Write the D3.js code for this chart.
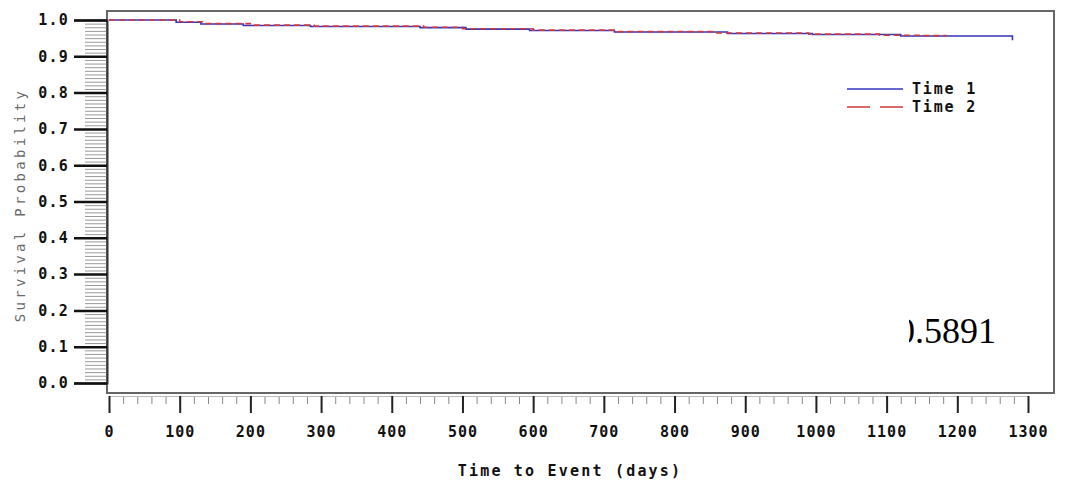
<!DOCTYPE html>
<html>
<head>
<meta charset="utf-8">
<script src="https://cdn.jsdelivr.net/npm/d3@7"></script>
<style>
  body { margin: 0; background: #fff; }
</style>
</head>
<body>
<svg id="chart" width="1075" height="485" font-family="DejaVu Sans Mono, monospace"></svg>
<script>
// data
const seriesNames = ["Time 1", "Time 2"];
const time1Days = [0, 95, 130, 190, 285, 440, 505, 595, 715, 875, 995, 1120, 1278];
const time1Surv = [1.0, 0.994, 0.989, 0.985, 0.982, 0.979, 0.975, 0.971, 0.967, 0.963, 0.960, 0.956, 0.944];
const time2Days = [0, 100, 135, 200, 290, 445, 500, 600, 720, 860, 990, 1090, 1150, 1185];
const time2Surv = [1.0, 0.995, 0.990, 0.986, 0.983, 0.980, 0.976, 0.972, 0.968, 0.964, 0.961, 0.958, 0.957, 0.957];
const xTicks = [0, 100, 200, 300, 400, 500, 600, 700, 800, 900, 1000, 1100, 1200, 1300];
const yTicks = [0.0, 0.1, 0.2, 0.3, 0.4, 0.5, 0.6, 0.7, 0.8, 0.9, 1.0];
const annotation = "0.5891";

const svg = d3.select("#chart");

const x = d3.scaleLinear().domain([0, 1300]).range([109, 1028]);
const y = d3.scaleLinear().domain([0, 1]).range([383, 20]);

// plot frame
svg.append("rect")
  .attr("x", 107).attr("y", 11)
  .attr("width", 1054 - 107).attr("height", 393 - 11)
  .attr("fill", "none").attr("stroke", "#666").attr("stroke-width", 2);

// y axis: minor ticks every 0.01, then major ticks
const yMinor = d3.axisLeft(y).tickValues(d3.range(0, 1.001, 0.01)).tickSize(22).tickFormat("");
const gyMinor = svg.append("g").attr("transform", "translate(107,0)").call(yMinor);
gyMinor.select(".domain").remove();
gyMinor.selectAll("line").attr("stroke", "#999").attr("stroke-width", 1);

const yAxis = d3.axisLeft(y).tickValues(yTicks).tickSize(33).tickPadding(7).tickFormat(d3.format(".1f"));
const gy = svg.append("g").attr("transform", "translate(107,0)").call(yAxis);
gy.select(".domain").attr("stroke", "#333").attr("stroke-width", 2);
gy.selectAll("line").attr("stroke", "#111").attr("stroke-width", 2.5);
gy.selectAll("text")
  .style("font-family", "DejaVu Sans Mono").style("font-weight", "bold")
  .style("font-size", "15px").attr("letter-spacing", "1.2px").attr("fill", "#111")
  .attr("dx", 2);

// x axis: minor ticks every 20 days, then majors
const xMinor = d3.axisBottom(x).tickValues(d3.range(0, 1301, 20)).tickSize(8).tickFormat("");
const gxMinor = svg.append("g").attr("transform", "translate(0,396)").call(xMinor);
gxMinor.select(".domain").remove();
gxMinor.selectAll("line").attr("stroke", "#888").attr("stroke-width", 1);

const xAxis = d3.axisBottom(x).tickValues(xTicks).tickSize(17).tickPadding(13)
  .tickSizeOuter(0).tickFormat(d3.format("d"));
const gx = svg.append("g").attr("transform", "translate(0,396)").call(xAxis);
gx.select(".domain").attr("stroke", "#bbb").attr("stroke-width", 1);
gx.selectAll("line").attr("stroke", "#222").attr("stroke-width", 2);
gx.selectAll("text")
  .style("font-family", "DejaVu Sans Mono").style("font-weight", "bold")
  .style("font-size", "15px").attr("letter-spacing", "1px").attr("fill", "#111");

// axis titles
svg.append("text")
  .attr("x", 570).attr("y", 476)
  .attr("text-anchor", "middle")
  .style("font-size", "15px").style("font-weight", "bold").attr("letter-spacing", "2.2px")
  .attr("fill", "#111")
  .text("Time to Event (days)");

svg.append("text")
  .attr("transform", "translate(25,205) rotate(-90)")
  .attr("text-anchor", "middle")
  .style("font-size", "14px").attr("letter-spacing", "3.3px")
  .attr("fill", "#6a6a6a")
  .text("Survival Probability");

// survival curves (step functions)
const line = d3.line()
  .x(d => x(d[0]))
  .y(d => y(d[1]))
  .curve(d3.curveStepAfter);

const series = [
  { name: seriesNames[0], pts: d3.zip(time1Days, time1Surv), color: "#3535c0", dash: null },
  { name: seriesNames[1], pts: d3.zip(time2Days, time2Surv), color: "#d03a3a", dash: "6,4" },
];

series.forEach(s => {
  svg.append("path")
    .datum(s.pts)
    .attr("fill", "none")
    .attr("stroke", s.color)
    .attr("stroke-width", 1.6)
    .attr("stroke-dasharray", s.dash)
    .attr("d", line);
});

// legend
const legend = svg.append("g").attr("transform", "translate(847,89)");
series.forEach((s, i) => {
  const row = legend.append("g").attr("transform", `translate(0,${i * 18})`);
  row.append("line")
    .attr("x1", 0).attr("x2", 56)
    .attr("stroke", s.color).attr("stroke-width", 1.6)
    .attr("stroke-dasharray", s.dash ? "23,10" : null);
  row.append("text")
    .attr("x", 65).attr("y", 5)
    .style("font-size", "15px").style("font-weight", "bold").attr("letter-spacing", "1.8px")
    .attr("fill", "#111")
    .text(s.name);
});

// pasted-in p value, left edge cut off
svg.append("clipPath").attr("id", "pclip")
  .append("rect").attr("x", 909).attr("y", 300).attr("width", 120).attr("height", 60);
svg.append("text")
  .attr("x", 897).attr("y", 343)
  .attr("clip-path", "url(#pclip)")
  .style("font-family", "Liberation Serif, serif")
  .style("font-size", "36px")
  .attr("fill", "#000")
  .text(annotation);
</script>
</body>
</html>
